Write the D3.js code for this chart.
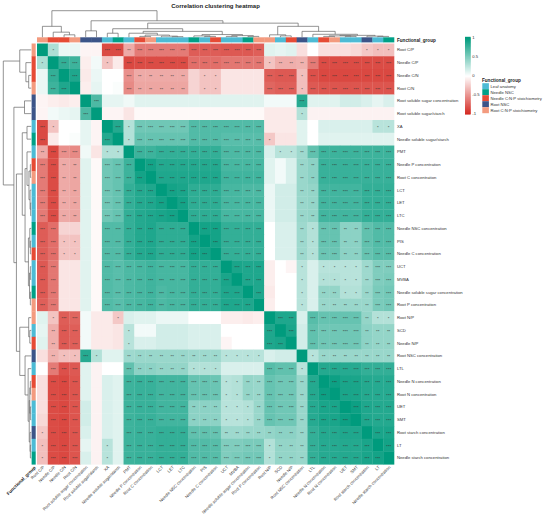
<!DOCTYPE html>
<html><head><meta charset="utf-8">
<script src="https://cdn.jsdelivr.net/npm/d3@7"></script>
<style>
body{margin:0;background:#fff}
svg{display:block}
text{font-family:"Liberation Sans",Arial,sans-serif}
</style>
</head><body>
<svg id="chart" width="550" height="518"></svg>
<script>
// ---------- data ----------
const variables = ["Root C/P","Needle C/P","Needle C/N","Root C/N","Root soluble sugar concentration","Root soluble sugar/starch","XA","Needle soluble sugar/starch","PMT","Needle P concentration","Root C concentration","LCT","LET","LTC","Needle NSC concentration","PIS","Needle C concentration","UCT","MVBA","Needle soluble sugar concentration","Root P concentration","Root N/P","SCD","Needle N/P","Root NSC concentration","LTL","Needle N concentration","Root N concentration","UET","SMT","Root starch concentration","LT","Needle starch concentration"];

const groupNames = ["Leaf anatomy","Needle NSC","Needle C:N:P stoichiometry","Root NSC","Root C:N:P stoichiometry"];
const groupColors = ["#4DBBD5","#00A087","#E64B35","#3C5488","#F39B7F"];

const variableGroups = ["Root C:N:P stoichiometry","Needle C:N:P stoichiometry","Needle C:N:P stoichiometry","Root C:N:P stoichiometry","Root NSC","Root NSC","Leaf anatomy","Needle NSC","Leaf anatomy","Needle C:N:P stoichiometry","Root C:N:P stoichiometry","Leaf anatomy","Leaf anatomy","Leaf anatomy","Needle NSC","Leaf anatomy","Needle C:N:P stoichiometry","Leaf anatomy","Leaf anatomy","Needle NSC","Root C:N:P stoichiometry","Root C:N:P stoichiometry","Leaf anatomy","Needle C:N:P stoichiometry","Root NSC","Leaf anatomy","Needle C:N:P stoichiometry","Root C:N:P stoichiometry","Leaf anatomy","Leaf anatomy","Root NSC","Leaf anatomy","Needle NSC"];

// upper triangle of the correlation matrix: row i holds r(i, j) for j > i
const corrUpper = [
 [0.32,0.08,0.08,-0.05,-0.05,-0.85,-0.85,-0.40,-0.62,-0.62,-0.62,-0.62,-0.62,-0.76,-0.76,-0.76,-0.78,-0.78,-0.78,-0.75,0.12,0.10,0.12,-0.15,0.00,-0.15,-0.15,-0.15,-0.18,-0.26,-0.30,-0.30],
 [0.80,0.76,-0.08,0.05,-0.28,-0.10,-0.86,-0.84,-0.84,-0.84,-0.84,-0.84,-0.68,-0.68,-0.68,-0.64,-0.64,-0.64,-0.64,-0.28,-0.38,-0.38,-0.36,-0.62,-0.84,-0.84,-0.84,-0.84,-0.84,-0.84,-0.84],
 [0.88,-0.10,0.08,0.00,0.00,-0.52,-0.40,-0.40,-0.40,-0.40,-0.40,-0.20,-0.28,-0.28,-0.12,-0.12,-0.12,-0.12,-0.76,-0.78,-0.78,-0.30,-0.82,-0.86,-0.86,-0.86,-0.86,-0.86,-0.86,-0.86],
 [-0.08,0.10,0.00,0.02,-0.55,-0.42,-0.42,-0.42,-0.42,-0.42,-0.20,-0.28,-0.28,-0.12,-0.12,-0.12,-0.12,-0.72,-0.75,-0.75,-0.30,-0.78,-0.80,-0.80,-0.80,-0.80,-0.80,-0.80,-0.80],
 [0.70,0.10,0.10,0.06,0.12,0.12,0.12,0.12,0.12,0.12,0.12,0.12,0.12,0.12,0.12,0.12,0.05,0.05,0.05,0.85,0.12,0.12,0.12,0.18,0.18,0.15,0.10,0.15],
 [-0.05,-0.05,-0.12,-0.03,-0.03,-0.03,-0.03,-0.03,-0.03,-0.03,-0.03,-0.03,-0.03,-0.03,-0.03,-0.10,-0.10,-0.10,0.30,-0.06,-0.06,-0.06,-0.06,-0.06,-0.06,-0.06,-0.06],
 [0.86,0.30,0.56,0.56,0.56,0.56,0.56,0.68,0.68,0.68,0.68,0.68,0.68,0.68,-0.10,-0.10,-0.10,0.12,0.00,0.15,0.15,0.15,0.15,0.15,0.28,0.28],
 [0.30,0.60,0.60,0.60,0.60,0.60,0.68,0.68,0.68,0.65,0.65,0.65,0.65,-0.26,-0.12,-0.12,0.12,0.00,0.12,0.12,0.12,0.12,0.12,0.12,0.12],
 [0.76,0.76,0.80,0.80,0.80,0.80,0.80,0.80,0.70,0.70,0.70,0.70,0.15,0.28,0.28,0.38,0.62,0.76,0.76,0.76,0.76,0.76,0.76,0.76],
 [0.92,0.86,0.86,0.86,0.86,0.86,0.86,0.72,0.72,0.72,0.72,0.12,0.05,0.15,0.40,0.45,0.78,0.78,0.78,0.78,0.78,0.78,0.78],
 [0.88,0.88,0.88,0.88,0.88,0.88,0.75,0.75,0.75,0.75,0.12,0.05,0.15,0.40,0.45,0.78,0.78,0.78,0.78,0.78,0.78,0.78],
 [0.92,0.90,0.82,0.82,0.82,0.72,0.72,0.70,0.70,0.08,0.18,0.18,0.40,0.42,0.74,0.74,0.74,0.74,0.80,0.80,0.80],
 [0.92,0.82,0.82,0.82,0.72,0.72,0.72,0.72,0.08,0.18,0.18,0.40,0.42,0.74,0.74,0.74,0.74,0.80,0.80,0.80],
 [0.82,0.82,0.82,0.72,0.72,0.72,0.72,0.08,0.18,0.18,0.40,0.42,0.74,0.74,0.74,0.74,0.80,0.80,0.80],
 [0.92,0.92,0.80,0.80,0.80,0.80,0.00,0.15,0.15,0.38,0.30,0.60,0.60,0.45,0.45,0.62,0.68,0.68],
 [0.92,0.80,0.80,0.80,0.80,0.00,0.15,0.15,0.38,0.30,0.60,0.60,0.45,0.45,0.62,0.68,0.68],
 [0.80,0.80,0.80,0.80,0.00,0.15,0.15,0.38,0.30,0.58,0.58,0.45,0.45,0.60,0.66,0.66],
 [0.90,0.88,0.88,-0.08,0.00,-0.05,0.28,0.15,0.28,0.28,0.28,0.28,0.38,0.50,0.50],
 [0.88,0.88,-0.08,0.00,0.00,0.28,0.15,0.30,0.30,0.28,0.28,0.38,0.50,0.52],
 [0.88,-0.10,0.00,0.00,0.28,0.15,0.42,0.42,0.30,0.30,0.40,0.52,0.55],
 [-0.08,0.00,0.00,0.28,0.15,0.40,0.40,0.40,0.40,0.40,0.52,0.55],
 [0.88,0.88,0.15,0.66,0.60,0.60,0.60,0.60,0.42,0.30,0.30],
 [0.90,0.18,0.62,0.56,0.56,0.56,0.56,0.45,0.42,0.42],
 [0.18,0.62,0.56,0.56,0.56,0.56,0.45,0.42,0.42],
 [0.28,0.40,0.40,0.40,0.40,0.40,0.40,0.40],
 [0.86,0.86,0.85,0.85,0.80,0.80,0.80],
 [0.95,0.90,0.90,0.86,0.85,0.85],
 [0.90,0.90,0.86,0.85,0.85],
 [0.95,0.88,0.86,0.86],
 [0.88,0.86,0.86],
 [0.90,0.90],
 [0.92]
];

// significance stars (number of *) for the same upper-triangle cells
const sigUpper = [
 [1,0,0,0,0,3,3,2,3,3,3,3,3,3,3,3,3,3,3,3,0,0,0,0,0,0,0,0,0,1,1,1],
 [3,3,0,0,1,0,3,3,3,3,3,3,3,3,3,3,3,3,3,1,2,2,2,3,3,3,3,3,3,3,3],
 [3,0,0,0,0,3,2,2,2,2,2,0,1,1,0,0,0,0,3,3,3,1,3,3,3,3,3,3,3,3],
 [0,0,0,0,3,2,2,2,2,2,0,1,1,0,0,0,0,3,3,3,1,3,3,3,3,3,3,3,3],
 [3,0,0,0,0,0,0,0,0,0,0,0,0,0,0,0,0,0,0,3,0,0,0,0,0,0,0,0],
 [0,0,0,0,0,0,0,0,0,0,0,0,0,0,0,0,0,0,1,0,0,0,0,0,0,0,0],
 [3,1,3,3,3,3,3,3,3,3,3,3,3,3,0,0,0,0,0,0,0,0,0,0,1,1],
 [1,3,3,3,3,3,3,3,3,3,3,3,3,1,0,0,0,0,0,0,0,0,0,0,0],
 [3,3,3,3,3,3,3,3,3,3,3,3,0,1,1,2,3,3,3,3,3,3,3,3],
 [3,3,3,3,3,3,3,3,3,3,3,0,0,0,2,2,3,3,3,3,3,3,3],
 [3,3,3,3,3,3,3,3,3,3,0,0,0,2,2,3,3,3,3,3,3,3],
 [3,3,3,3,3,3,3,3,3,0,0,0,2,2,3,3,3,3,3,3,3],
 [3,3,3,3,3,3,3,3,0,0,0,2,2,3,3,3,3,3,3,3],
 [3,3,3,3,3,3,3,0,0,0,2,2,3,3,3,3,3,3,3],
 [3,3,3,3,3,3,0,0,0,2,1,3,3,2,2,3,3,3],
 [3,3,3,3,3,0,0,0,2,1,3,3,2,2,3,3,3],
 [3,3,3,3,0,0,0,2,1,3,3,2,2,3,3,3],
 [3,3,3,0,0,0,1,0,1,1,1,1,2,3,3],
 [3,3,0,0,0,1,0,1,1,1,1,2,3,3],
 [3,0,0,0,1,0,2,2,1,1,2,3,3],
 [0,0,0,1,0,2,2,2,2,2,3,3],
 [3,3,0,3,3,3,3,3,2,1,1],
 [3,0,3,3,3,3,3,2,2,2],
 [0,3,3,3,3,3,2,2,2],
 [1,2,2,2,2,2,2,2],
 [3,3,3,3,3,3,3],
 [3,3,3,3,3,3],
 [3,3,3,3,3],
 [3,3,3,3],
 [3,3,3],
 [3,3],
 [3]
];

// clustering tree: [merge height (relative), left, right]; leaves are variable numbers (1-based)
const clusterTree = [1.00,
  [0.41, 1, [0.19, 2, [0.09, 3, 4]]],
  [0.62,
    [0.24, 5, 6],
    [0.53,
      [0.32,
        [0.15, 7, 8],
        [0.22,
          [0.15, 9, [0.08, [0.03, 10, 11], [0.04, 12, [0.02, 13, 14]]]],
          [0.10, [0.05, 15, [0.03, 16, 17]], [0.06, [0.03, 18, 19], [0.03, 20, 21]]]]],
      [0.41,
        [0.09, 22, [0.05, 23, 24]],
        [0.22, 25, [0.11, 26, [0.07, [0.05, [0.03, 27, 28], [0.03, 29, 30]], [0.04, 31, [0.03, 32, 33]]]]]]]]];

const legendTicks = [1, 0.5, 0, -0.5, -1];
const chartTitle = "Correlation clustering heatmap";
const annotationTitle = "Functional_group";

// ---------- build ----------
const n = variables.length;
const matrix = d3.range(n).map(i => d3.range(n).map(j => {
  if (i === j) return {r: 1, s: 0};
  const a = Math.min(i, j), b = Math.max(i, j);
  return {r: corrUpper[a][b - a - 1], s: sigUpper[a][b - a - 1]};
}));

const svg = d3.select("#chart");
const FONT = "Liberation Sans, Arial, sans-serif";

const x = d3.scaleBand().domain(d3.range(n)).range([37, 394]).padding(0);
const y = d3.scaleBand().domain(d3.range(n)).range([43.5, 464.3]).padding(0);
const color = d3.scaleLinear().domain([-1, 0, 1]).range(["#D42A22", "#ffffff", "#009B7D"]).interpolate(d3.interpolateRgb);
const groupColor = d3.scaleOrdinal().domain(groupNames).range(groupColors);

// title
svg.append("text").attr("x", (x.range()[0] + x.range()[1]) / 2).attr("y", 7.6)
  .attr("text-anchor", "middle").attr("font-size", 6).attr("font-weight", "bold").attr("fill", "#222")
  .text(chartTitle);

// cells
const cells = [];
matrix.forEach((row, i) => row.forEach((c, j) => cells.push({i, j, r: c.r, s: c.s})));
svg.append("g").selectAll("rect").data(cells).join("rect")
  .attr("x", d => x(d.j)).attr("y", d => y(d.i))
  .attr("width", x.bandwidth() + 0.3).attr("height", y.bandwidth() + 0.3)
  .attr("fill", d => color(d.r));

// stars
svg.append("g").selectAll("text").data(cells.filter(d => d.s > 0)).join("text")
  .attr("x", d => x(d.j) + x.bandwidth() / 2)
  .attr("y", d => y(d.i) + y.bandwidth() / 2 + 2.5)
  .attr("text-anchor", "middle").attr("font-size", 4.3).attr("fill", "#333")
  .text(d => "*".repeat(d.s));

// annotation bars
svg.append("g").selectAll("rect").data(variableGroups).join("rect")
  .attr("x", (d, i) => x(i)).attr("y", 37.3)
  .attr("width", x.bandwidth() + 0.3).attr("height", 5.1)
  .attr("fill", d => groupColor(d));
svg.append("g").selectAll("rect").data(variableGroups).join("rect")
  .attr("x", 31.6).attr("y", (d, i) => y(i))
  .attr("width", 4.1).attr("height", y.bandwidth() + 0.3)
  .attr("fill", d => groupColor(d));

// row labels
svg.append("g").selectAll("text").data(variables).join("text")
  .attr("x", 397).attr("y", (d, i) => y(i) + y.bandwidth() / 2 + 1.5)
  .attr("font-size", 4.2).attr("fill", "#333").text(d => d);
svg.append("text").attr("x", 397).attr("y", 41.6).attr("font-size", 4.6).attr("font-weight", "bold")
  .attr("fill", "#222").text(annotationTitle);

// column labels
svg.append("g").selectAll("text").data(variables).join("text")
  .attr("transform", (d, i) => `translate(${x(i) + x.bandwidth() / 2 + 2.2},${467.5}) rotate(-45)`)
  .attr("text-anchor", "end").attr("font-size", 4.2).attr("fill", "#333").text(d => d);
svg.append("text").attr("transform", `translate(36,468) rotate(-45)`)
  .attr("text-anchor", "end").attr("font-size", 4.6).attr("font-weight", "bold").attr("fill", "#222")
  .text(annotationTitle);

// dendrograms
const root = d3.hierarchy(clusterTree, d => Array.isArray(d) ? d.slice(1) : null);
root.eachAfter(node => {
  node.h = Array.isArray(node.data) ? node.data[0] : 0;
  node.pos = node.children ? d3.mean(node.children, c => c.pos) : (node.data - 1) + 0.5;
});
const leafPosX = d3.scaleLinear().domain([0, n]).range(x.range());
const leafPosY = d3.scaleLinear().domain([0, n]).range(y.range());
const hTop = d3.scaleLinear().domain([0, 1]).range([37.2, 10.7]);
const hLeft = d3.scaleLinear().domain([0, 1]).range([31.2, 3.3]);

const topSegs = [], leftSegs = [];
root.each(node => {
  if (!node.children) return;
  const [a, b] = node.children;
  topSegs.push(`M${leafPosX(a.pos)},${hTop(a.h)}V${hTop(node.h)}H${leafPosX(b.pos)}V${hTop(b.h)}`);
  leftSegs.push(`M${hLeft(a.h)},${leafPosY(a.pos)}H${hLeft(node.h)}V${leafPosY(b.pos)}H${hLeft(b.h)}`);
});
svg.append("g").selectAll("path").data(topSegs).join("path")
  .attr("d", d => d).attr("fill", "none").attr("stroke", "#666").attr("stroke-width", 0.7);
svg.append("g").selectAll("path").data(leftSegs).join("path")
  .attr("d", d => d).attr("fill", "none").attr("stroke", "#666").attr("stroke-width", 0.7);

// colour bar legend
const lg = d3.scaleLinear().domain([-1, 1]).range([113.8, 37.6]);
const steps = d3.range(-1, 1.0001, 0.02);
svg.append("g").selectAll("rect").data(steps).join("rect")
  .attr("x", 465).attr("width", 5.6)
  .attr("y", d => lg(d) - 0.8).attr("height", 1.6)
  .attr("fill", d => color(d));
svg.append("g").selectAll("text").data(legendTicks).join("text")
  .attr("x", 472.3).attr("y", d => lg(d) + 1.5)
  .attr("font-size", 4.2).attr("fill", "#333").text(d => d);

// group legend
svg.append("text").attr("x", 482).attr("y", 81.6).attr("font-size", 4.6).attr("font-weight", "bold")
  .attr("fill", "#222").text(annotationTitle);
const gl = d3.scaleBand().domain(groupNames).range([83.2, 113.2]);
svg.append("g").selectAll("rect").data(groupNames).join("rect")
  .attr("x", 482.3).attr("y", d => gl(d)).attr("width", 6.6).attr("height", gl.bandwidth())
  .attr("fill", d => groupColor(d));
svg.append("g").selectAll("text").data(groupNames).join("text")
  .attr("x", 490.5).attr("y", d => gl(d) + gl.bandwidth() / 2 + 1.5)
  .attr("font-size", 4.2).attr("fill", "#333").text(d => d);
</script>
</body></html>
